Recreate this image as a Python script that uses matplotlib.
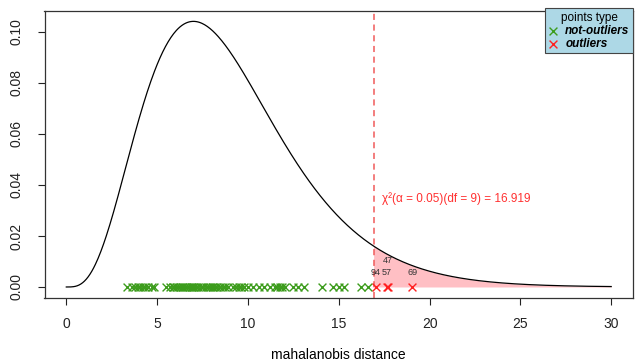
import matplotlib.pyplot as plt
import numpy as np
from math import gamma

plt.rcParams['font.family'] = ['Liberation Sans', 'DejaVu Sans']

# chi-square reference
df = 9
alpha = 0.05
cutoff = 16.919

# mahalanobis distances
not_outliers = [3.35, 3.6, 3.8, 3.95, 4.05, 4.2, 4.35, 4.5, 4.7, 4.85,
                5.5, 5.7, 5.85, 5.95, 6.05, 6.15, 6.25, 6.35, 6.45, 6.55,
                6.65, 6.75, 6.85, 6.9, 7.0, 7.05, 7.15, 7.25, 7.4, 7.55,
                7.7, 7.8, 7.9, 8.0, 8.1, 8.2, 8.3, 8.45, 8.6, 8.75, 8.9,
                9.2, 9.35, 9.5, 9.6, 9.8, 10.0, 10.3, 10.6, 10.9, 11.2,
                11.5, 11.6, 11.75, 11.9, 12.05,
                12.5, 12.75, 13.1, 14.1, 14.7, 15.0, 15.3, 16.2, 16.6]
outliers = [17.05, 17.65, 17.7, 19.05]
outlier_ids = ['94', '57', '47', '69']
label_y = [0.0055, 0.0055, 0.0102, 0.0055]


def chi2_pdf(x):
    return x ** (df / 2 - 1) * np.exp(-x / 2) / (2 ** (df / 2) * gamma(df / 2))


xs = np.linspace(0, 30, 600)
dens = chi2_pdf(xs)

fig = plt.figure(figsize=(6.36, 3.62), dpi=100)
ax = fig.add_axes([44.5 / 636, 1 - 297.6 / 362, (633 - 44.5) / 636, (297.6 - 10.7) / 362])

xt = np.linspace(cutoff, 30, 300)
ax.fill_between(xt, 0, chi2_pdf(xt), color='#ffbfc4', lw=0)
ax.plot(xs, dens, color='black', lw=0.9)
ax.axvline(cutoff, color='#f05a5a', lw=1.1, ls=(0, (4, 3)))

ax.scatter(not_outliers, np.zeros(len(not_outliers)), marker='x', color='#3c9c1c',
           s=32, lw=1, label='not-outliers', zorder=3)
ax.scatter(outliers, np.zeros(len(outliers)), marker='x', color='#ff2020',
           s=32, lw=1, label='outliers', zorder=3)
for xv, yv, t in zip(outliers, label_y, outlier_ids):
    ax.text(xv, yv, t, fontsize=6.5, ha='center', va='center', color='#333333')

ax.text(17.4, 0.0345, 'χ²(α = 0.05)(df = 9) = 16.919',
        color='#ff3030', fontsize=8.5, ha='left', va='center')

ax.set_xlim(-1.2, 31.2)
ax.set_ylim(-0.00416, 0.1083)
ax.set_xticks(range(0, 31, 5))
ax.set_yticks([0, 0.02, 0.04, 0.06, 0.08, 0.10])
ax.set_yticklabels(['0.00', '0.02', '0.04', '0.06', '0.08', '0.10'], rotation=90, va='center')
ax.tick_params(length=5, width=0.8, labelsize=10, colors='#222222')
ax.tick_params(axis='x', pad=9)
ax.tick_params(axis='y', pad=10)
for s in ax.spines.values():
    s.set_color('#333333')
    s.set_linewidth(0.9)
ax.set_xlabel('mahalanobis distance', fontsize=10, labelpad=12)

leg = ax.legend(loc='upper right', bbox_to_anchor=(633 / 636, 1 - 8 / 362),
                bbox_transform=fig.transFigure, borderaxespad=0, title='points type',
                prop={'weight': 'bold', 'style': 'italic', 'size': 8.5}, title_fontsize=8.5,
                fancybox=False, facecolor='#add8e6', edgecolor='#444444', framealpha=1,
                handlelength=0.8, handletextpad=0.6, borderpad=0.3, labelspacing=0.1,
                scatterpoints=1)
leg.get_frame().set_linewidth(0.8)

fig.savefig('out.png', dpi=100)
